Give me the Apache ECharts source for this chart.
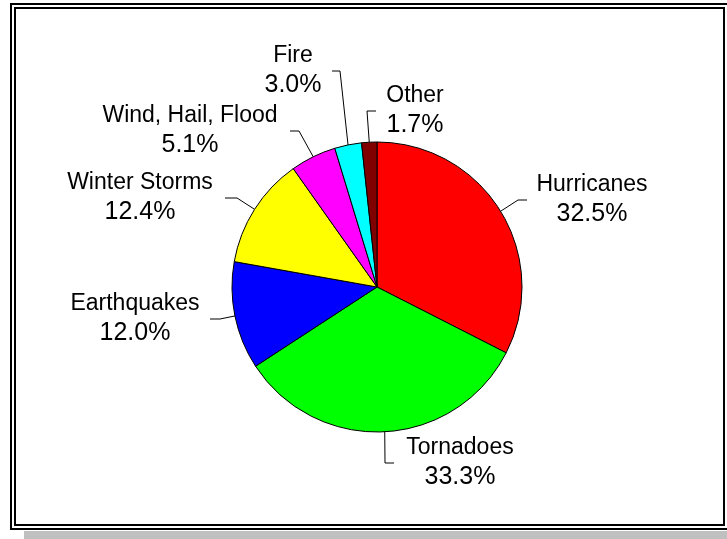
<!DOCTYPE html>
<html>
<head>
<meta charset="utf-8">
<script src="https://cdn.jsdelivr.net/npm/echarts@6/dist/echarts.min.js"></script>
<style>
html,body{margin:0;padding:0;background:#fff;}
#chart{width:727px;height:539px;}
</style>
</head>
<body>
<div id="chart"></div>
<script>
// ---- data ----
const categories = ['Hurricanes', 'Tornadoes', 'Earthquakes', 'Winter Storms', 'Wind, Hail, Flood', 'Fire', 'Other'];
const shares = [32.5, 33.3, 12.0, 12.4, 5.1, 3.0, 1.7];
const sliceColors = ['#ff0000', '#00ff00', '#0000ff', '#ffff00', '#ff00ff', '#00ffff', '#800000'];

// ---- label placement (leader line elbow/end and text centre x) ----
const labelGuides = [
  { elbow: [518, 200], end: [527, 200], textX: 592 },
  { elbow: [385, 463], end: [394, 463], textX: 460 },
  { elbow: [220, 319], end: [210, 319], textX: 135 },
  { elbow: [237, 198], end: [225, 198], textX: 140 },
  { elbow: [299, 131], end: [290, 131], textX: 190 },
  { elbow: [340, 71], end: [332, 71], textX: 293 },
  { elbow: [367, 111], end: [376, 111], textX: 415 }
];

const chart = echarts.init(document.getElementById('chart'), null, { renderer: 'canvas' });

const option = {
  animation: false,
  backgroundColor: '#ffffff',
  graphic: [
    { type: 'rect', shape: { x: 24, y: 531, width: 703, height: 8 }, style: { fill: '#c0c0c0' }, z: 0 },
    { type: 'rect', shape: { x: 11, y: 4, width: 730, height: 525 }, style: { fill: 'none', stroke: '#000', lineWidth: 2 }, z: 1 },
    { type: 'rect', shape: { x: 15, y: 8, width: 709, height: 517 }, style: { fill: 'none', stroke: '#000', lineWidth: 2 }, z: 1 }
  ],
  series: [{
    type: 'pie',
    center: [377, 287],
    radius: 145,
    startAngle: 90,
    clockwise: true,
    avoidLabelOverlap: false,
    silent: true,
    data: categories.map((c, i) => ({ name: c, value: shares[i], itemStyle: { color: sliceColors[i] } })),
    itemStyle: { borderColor: '#000', borderWidth: 1 },
    label: {
      show: true,
      position: 'outside',
      color: '#000',
      fontFamily: 'Liberation Sans, Arial, sans-serif',
      formatter: p => '{n|' + p.name + '}\n{p|' + p.value.toFixed(1) + '%}',
      rich: {
        n: { fontSize: 23, lineHeight: 28, color: '#000', fontFamily: 'Liberation Sans, Arial, sans-serif', align: 'center' },
        p: { fontSize: 25, lineHeight: 30, color: '#000', fontFamily: 'Liberation Sans, Arial, sans-serif', align: 'center' }
      }
    },
    labelLine: { show: true, length: 20, length2: 10, lineStyle: { color: '#000', width: 1 } },
    labelLayout: function (params) {
      const g = labelGuides[params.dataIndex];
      const start = params.labelLinePoints ? params.labelLinePoints[0] : g.elbow;
      return {
        x: g.textX,
        y: g.end[1],
        align: 'center',
        verticalAlign: 'middle',
        labelLinePoints: [start, g.elbow, g.end]
      };
    }
  }]
};
chart.setOption(option);
</script>
</body>
</html>
